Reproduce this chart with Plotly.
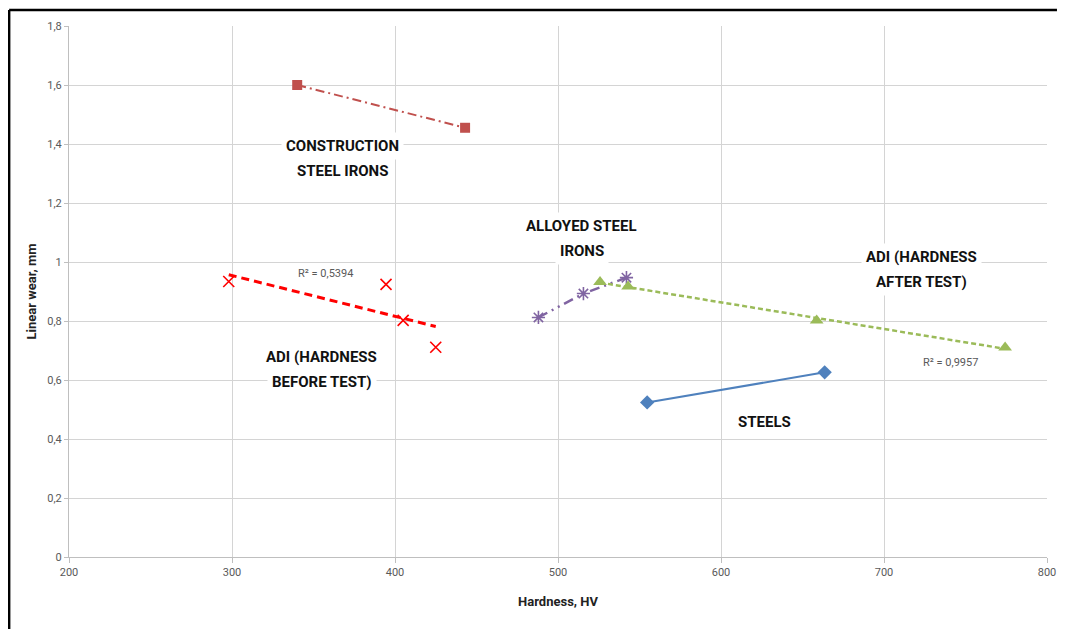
import numpy as np
import plotly.graph_objects as go

# ---- data ----
constr_x = [340, 443]
constr_y = [1.60, 1.455]

adi_before_x = [298, 394.5, 405, 425]
adi_before_y = [0.934, 0.924, 0.802, 0.711]

alloyed_x = [488, 515.6, 542]
alloyed_y = [0.812, 0.893, 0.947]

adi_after_x = [525.8, 543, 658.7, 774.3]
adi_after_y = [0.932, 0.917, 0.802, 0.710]

steels_x = [554.7, 663.6]
steels_y = [0.524, 0.626]

r2_before = "R² = 0,5394"
r2_after = "R² = 0,9957"

x_ticks = [200, 300, 400, 500, 600, 700, 800]
y_ticks = [0, 0.2, 0.4, 0.6, 0.8, 1.0, 1.2, 1.4, 1.6, 1.8]

FONT = "Roboto, Lato, sans-serif"

def trend(xs, ys):
    k, b = np.polyfit(xs, ys, 1)
    xx = np.array([min(xs), max(xs)])
    return xx, k * xx + b

fig = go.Figure()

# Construction steel irons
fig.add_trace(go.Scatter(
    x=constr_x, y=constr_y, mode="lines+markers",
    line=dict(color="#C0504D", width=2, dash="9px,4px,2px,4px"),
    marker=dict(symbol="square", size=10, color="#C0504D"),
    showlegend=False))

# ADI before test: markers + linear trend
tx, ty = trend(adi_before_x, adi_before_y)
fig.add_trace(go.Scatter(
    x=tx, y=ty, mode="lines",
    line=dict(color="#FF0000", width=3, dash="8px,5px"),
    showlegend=False))
fig.add_trace(go.Scatter(
    x=adi_before_x, y=adi_before_y, mode="markers",
    marker=dict(symbol="x-thin-open", size=11, color="#FF0000",
                line=dict(color="#FF0000", width=1.6)),
    showlegend=False))

# Alloyed steel irons
fig.add_trace(go.Scatter(
    x=alloyed_x, y=alloyed_y, mode="lines+markers",
    line=dict(color="#8064A2", width=2.5, dash="10px,5px,2px,5px,2px,5px"),
    marker=dict(symbol="asterisk-open", size=11, color="#8064A2",
                line=dict(color="#8064A2", width=1.6)),
    showlegend=False))

# ADI after test: markers + linear trend
tx2, ty2 = trend(adi_after_x, adi_after_y)
fig.add_trace(go.Scatter(
    x=tx2, y=ty2, mode="lines",
    line=dict(color="#9BBB59", width=2.5, dash="5px,3px"),
    showlegend=False))
fig.add_trace(go.Scatter(
    x=adi_after_x, y=adi_after_y, mode="markers",
    marker=dict(symbol="triangle-up", size=12, color="#9BBB59"),
    showlegend=False))

# Steels
fig.add_trace(go.Scatter(
    x=steels_x, y=steels_y, mode="lines+markers",
    line=dict(color="#4F81BD", width=2),
    marker=dict(symbol="diamond", size=11, color="#4F81BD"),
    showlegend=False))

def label(lines, x, y, gap=25):
    n = len(lines)
    for i, t in enumerate(lines):
        shift = (n - 1) / 2 * gap - i * gap
        fig.add_annotation(x=x, y=y, text=t, showarrow=False, yshift=shift,
                           font=dict(family=FONT, size=15, color="#111111"),
                           bgcolor="white", borderpad=4)

label(["<b>CONSTRUCTION</b>", "<b>STEEL IRONS</b>"], 368, 1.351)
label(["<b>ADI (HARDNESS</b>", "<b>BEFORE TEST)</b>"], 355, 0.635)
label(["<b>ALLOYED STEEL</b>", "<b>IRONS</b>"], 514.5, 1.079)
label(["<b>ADI (HARDNESS</b>", "<b>AFTER TEST)</b>"], 723, 0.973)
label(["<b>STEELS</b>"], 626.7, 0.456)

fig.add_annotation(x=357.6, y=0.960, text=r2_before, showarrow=False,
                   font=dict(family=FONT, size=11, color="#595959"))
fig.add_annotation(x=741, y=0.659, text=r2_after, showarrow=False,
                   font=dict(family=FONT, size=11, color="#595959"))

# outer frame (left + top)
fig.add_shape(type="line", xref="paper", yref="paper",
              x0=-0.0612, x1=-0.0612, y0=1.030, y1=-0.15,
              line=dict(color="black", width=2.5))
fig.add_shape(type="line", xref="paper", yref="paper",
              x0=-0.0612, x1=1.0102, y0=1.030, y1=1.030,
              line=dict(color="black", width=2.5))

fig.update_layout(
    width=1060, height=621,
    margin=dict(l=61, r=15, t=15, b=72),
    paper_bgcolor="white", plot_bgcolor="white",
    separators=", ",
    font=dict(family=FONT, color="#595959", size=11),
)
fig.update_xaxes(
    range=[200, 800], tickvals=x_ticks, showgrid=True, gridcolor="#D4D4D4", gridwidth=1,
    zeroline=False, showline=True, linecolor="#BFBFBF", ticks="outside", ticklen=5,
    tickcolor="#BFBFBF", tickfont=dict(size=11, color="#595959"),
    title=dict(text="<b>Hardness, HV</b>", font=dict(size=13, color="#222222"), standoff=18),
)
fig.update_yaxes(
    range=[0, 1.8], tickvals=y_ticks, showgrid=True, gridcolor="#D4D4D4", gridwidth=1,
    zeroline=False, showline=True, linecolor="#BFBFBF", ticks="outside", ticklen=4,
    tickcolor="#BFBFBF", tickfont=dict(size=11, color="#595959"),
    title=dict(text="<b>Linear wear, mm</b>", font=dict(size=13, color="#222222"), standoff=7),
)

fig.write_html("out.html")
